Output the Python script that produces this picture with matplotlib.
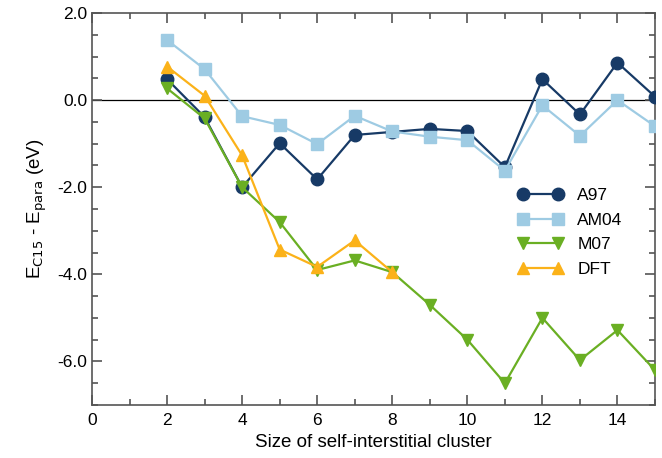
import numpy as np
import matplotlib
matplotlib.use("Agg")
import matplotlib.pyplot as plt
from matplotlib.ticker import MultipleLocator, FormatStrFormatter

plt.rcParams["font.family"] = ["Liberation Sans", "DejaVu Sans"]
plt.rcParams["axes.unicode_minus"] = False

# cluster sizes
sizes = [2, 3, 4, 5, 6, 7, 8, 9, 10, 11, 12, 13, 14, 15]
dft_sizes = [2, 3, 4, 5, 6, 7, 8]

# E_C15 - E_para (eV)
a97 = [0.48, -0.39, -2.0, -0.99, -1.82, -0.8, -0.73, -0.66, -0.71, -1.54, 0.48, -0.33, 0.86, 0.08]
am04 = [1.38, 0.71, -0.37, -0.57, -1.01, -0.36, -0.72, -0.84, -0.92, -1.62, -0.12, -0.82, 0.0, -0.6]
m07 = [0.27, -0.42, -2.0, -2.8, -3.9, -3.68, -3.95, -4.7, -5.5, -6.5, -5.0, -5.97, -5.28, -6.2]
dft = [0.77, 0.1, -1.27, -3.43, -3.83, -3.22, -3.95]

series = [
    ("A97", sizes, a97, "#173a66", "o"),
    ("AM04", sizes, am04, "#9ecbe3", "s"),
    ("M07", sizes, m07, "#6aaf23", "v"),
    ("DFT", dft_sizes, dft, "#fbb219", "^"),
]

fig = plt.figure(figsize=(6.62, 4.58), dpi=100)
ax = fig.add_axes([0.139, 0.1157, 0.8504, 0.8559])

ax.axhline(0, color="black", lw=0.9, zorder=1)

for label, xs, ys, color, marker in series:
    ax.plot(xs, ys, color=color, marker=marker, markersize=9, lw=1.6,
            label=label, zorder=3)

ax.set_xlim(0, 15)
ax.set_ylim(-7, 2)
ax.xaxis.set_major_locator(MultipleLocator(2))
ax.xaxis.set_minor_locator(MultipleLocator(1))
ax.yaxis.set_major_locator(MultipleLocator(2))
ax.yaxis.set_minor_locator(MultipleLocator(0.5))
ax.yaxis.set_major_formatter(FormatStrFormatter("%.1f"))

for s in ax.spines.values():
    s.set_color("#555555")
    s.set_linewidth(1.2)
ax.tick_params(which="both", direction="in", top=True, right=True,
               color="#555555", width=1.2, labelsize=12.5)
ax.tick_params(which="major", length=7)
ax.tick_params(which="minor", length=4)
ax.tick_params(axis="x", pad=6)

ax.set_xlabel("Size of self-interstitial cluster", fontsize=13.5, labelpad=4)
ax.set_ylabel("E$_{\\mathrm{C15}}$ - E$_{\\mathrm{para}}$ (eV)", fontsize=13.5, labelpad=6)

ax.legend(loc="center right", bbox_to_anchor=(0.97, 0.44), frameon=False,
          numpoints=2, fontsize=12.5, handlelength=2.6, labelspacing=0.55)

fig.savefig("out.png", dpi=100)
